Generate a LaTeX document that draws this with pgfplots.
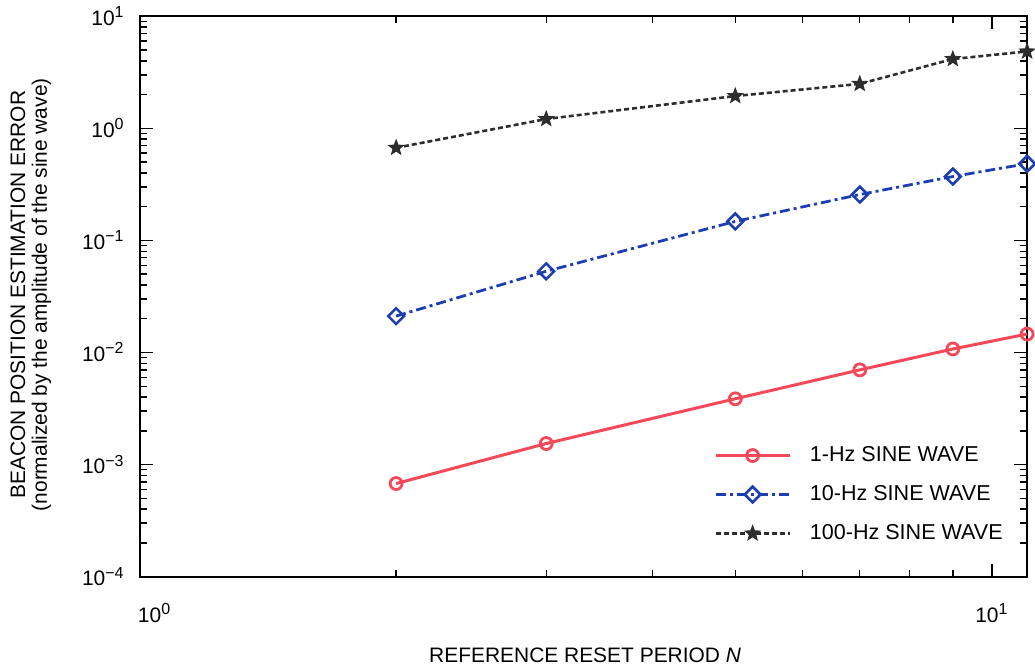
\documentclass[border=0pt]{standalone}
\usepackage{fontspec}
\setmainfont{Liberation Sans}
\usepackage{pgfplots}
\pgfplotsset{compat=1.18}

\definecolor{onehz}{RGB}{245,72,88}
\definecolor{tenhz}{RGB}{28,62,178}
\definecolor{hundhz}{RGB}{45,45,45}

\newcommand{\sx}[1]{\textsuperscript{\fontsize{8}{8}\selectfont #1}}

% five-pointed star
\pgfdeclareplotmark{pstar}{%
  \pgfpathmoveto{\pgfpointpolar{90}{\pgfplotmarksize}}%
  \pgfpathlineto{\pgfpointpolar{126}{0.42\pgfplotmarksize}}%
  \pgfpathlineto{\pgfpointpolar{162}{\pgfplotmarksize}}%
  \pgfpathlineto{\pgfpointpolar{198}{0.42\pgfplotmarksize}}%
  \pgfpathlineto{\pgfpointpolar{234}{\pgfplotmarksize}}%
  \pgfpathlineto{\pgfpointpolar{270}{0.42\pgfplotmarksize}}%
  \pgfpathlineto{\pgfpointpolar{306}{\pgfplotmarksize}}%
  \pgfpathlineto{\pgfpointpolar{342}{0.42\pgfplotmarksize}}%
  \pgfpathlineto{\pgfpointpolar{18}{\pgfplotmarksize}}%
  \pgfpathlineto{\pgfpointpolar{54}{0.42\pgfplotmarksize}}%
  \pgfpathclose
  \pgfusepathqfillstroke}

\begin{document}
\begin{tikzpicture}
\begin{axis}[
    scale only axis,
    width=445pt, height=281pt,
    xmode=log, ymode=log,
    xmin=1, xmax=11,
    ymin=1e-4, ymax=10,
    font=\fontsize{10.5}{12}\selectfont,
    xtick={1,10},
    xticklabels={{\hspace*{15pt}10\sx{0}}, 10\sx{1}},
    minor xtick={2,3,4,5,6,7,8,9},
    ytick={1e-4,1e-3,1e-2,1e-1,1,10},
    yticklabels={10\sx{−4},10\sx{−3},10\sx{−2},10\sx{−1},10\sx{0},10\sx{1}},
    minor ytick={2e-4,3e-4,4e-4,5e-4,6e-4,7e-4,8e-4,9e-4,
                 2e-3,3e-3,4e-3,5e-3,6e-3,7e-3,8e-3,9e-3,
                 2e-2,3e-2,4e-2,5e-2,6e-2,7e-2,8e-2,9e-2,
                 0.2,0.3,0.4,0.5,0.6,0.7,0.8,0.9,
                 2,3,4,5,6,7,8,9},
    tick align=inside,
    major tick length=6.5pt,
    minor tick length=3.5pt,
    every tick/.style={black, line width=0.7pt},
    axis line style={line width=1pt},
    xticklabel style={yshift=-10pt},
    yticklabel style={xshift=-4pt},
    xlabel={REFERENCE RESET PERIOD \textit{N}},
    xlabel style={at={(axis description cs:0.502,-0.1405)}, anchor=center},
    ylabel={BEACON POSITION ESTIMATION ERROR\\(normalized by the amplitude of the sine wave)},
    ylabel style={at={(axis description cs:-0.1225,0.503)}, anchor=center, align=center,
                  font=\fontsize{10.5}{11}\selectfont},
    legend style={draw=none, fill=none, at={(axis description cs:0.647,0.24)},
                  anchor=north west, inner sep=0pt, row sep=6.5pt,
                  font=\fontsize{10.8}{12}\selectfont},
    legend cell align=left,
    legend image code/.code={%
        \draw[mark repeat=2, mark phase=2, #1]
            plot coordinates {(0pt,0pt) (18.5pt,0pt) (37pt,0pt)};
        \path (44.5pt,0pt);},
]

\addplot[color=onehz, line width=1.5pt, mark=o, mark size=3pt,
         mark options={solid, line width=1.4pt, fill=white}]
    coordinates {
    (2,6.77e-4)(3,1.54e-3)(5,3.86e-3)(7,6.99e-3)(9,0.01074)(11,0.01459)
    };
\addlegendentry{1-Hz SINE WAVE}

\addplot[color=tenhz, line width=1.4pt, dash pattern=on 5pt off 2pt on 1.5pt off 2pt,
         mark=square, mark size=2.8pt,
         mark options={solid, rotate=45, line width=1.3pt, fill=white}]
    coordinates {
    (2,0.0211)(3,0.053)(5,0.1476)(7,0.2565)(9,0.371)(11,0.483)
    };
\addlegendentry{10-Hz SINE WAVE}

\addplot[color=hundhz, line width=1.3pt, dash pattern=on 2.5pt off 1.5pt,
         mark=pstar, mark size=3.6pt,
         mark options={solid, line width=0.7pt, fill=hundhz}]
    coordinates {
    (2,0.67)(3,1.21)(5,1.94)(7,2.49)(9,4.15)(11,4.85)
    };
\addlegendentry{100-Hz SINE WAVE}

\end{axis}
\path ([xshift=-70pt,yshift=-45pt]current axis.south west)
    rectangle ([xshift=2.5pt,yshift=7pt]current axis.north east);
\end{tikzpicture}
\end{document}
